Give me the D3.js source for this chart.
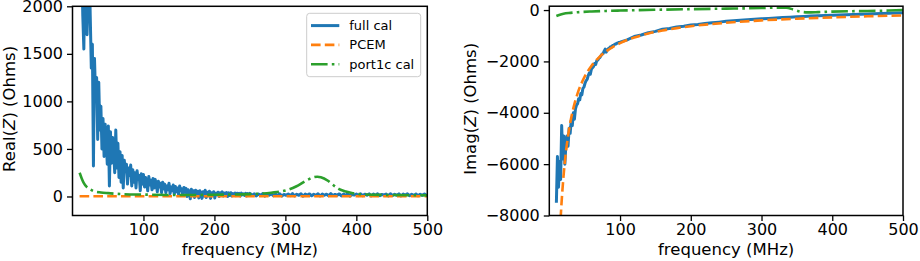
<!DOCTYPE html>
<html>
<head>
<meta charset="utf-8">
<script src="https://cdn.jsdelivr.net/npm/d3@7"></script>
<style>
  body { margin: 0; background: #fff; }
  svg { font-family: "DejaVu Sans", sans-serif; }
</style>
</head>
<body>
<svg class="both" width="920" height="261"></svg>
<script>
// ---- data ----
const seriesNames = ["full cal", "PCEM", "port1c cal"];
const xTicks = [100, 200, 300, 400, 500];
const realTicks = [0, 500, 1000, 1500, 2000];
const imagTicks = [-8000, -6000, -4000, -2000, 0];

// full cal, Real(Z): 1.5 MHz steps from 10 to 250 MHz
const realFullLow = [
  2700, 2300, 2500, 1900, 1550, 2400, 2600, 1700, 2100, 2450,
  1900, 1350, 1600, 320, 1450, 1050, 1250, 600, 1200, 700,
  950, 500, 820, 420, 760, 600, 340, 740, 110, 680,
  350, 620, 480, 250, 700, 300, 560, 200, 470, 150,
  430, 90, 380, 260, 340, 130, 300, 220, 330, 110,
  280, 150, 250, 90, 270, 180, 220, 60, 240, 130,
  230, 100, 200, 150, 60, 210, 120, 170, 70, 190,
  90, 180, 130, 50, 160, 100, 140, 40, 150, 80,
  130, 40, 110, 70, 140, 30, 100, 60, 120, 25,
  105, 50, 90, 20, 110, 60, 80, 10, 95, 45,
  85, 0, 70, 40, -25, 75, 20, 60, -10, 65,
  10, 55, -15, 60, 30, -20, 50, 5, 65, -10,
  45, 15, 55, -20, 40, 10, 50, -15, 35, 20,
  45, 0, 40, 15, 48, 5, 35, 20, 42, 0,
  38, 12, 40, 5, 30, 20, 36, 8, 34, 15,
  32, 5, 35, 18, 28, 10, 33, 6, 30, 15,
  32
];
// full cal, Real(Z): 3 MHz steps from 253 to 499 MHz
const realFullHigh = [
  10, 28, 6, 26, 12, 30, 4, 24, 14, 27,
  8, 25, 10, 29, 5, 22, 13, 26, 9, 30,
  6, 24, 12, 28, 3, 25, 15, 27, 7, 23,
  11, 29, 5, 26, 13, 24, 8, 30, 10, 22,
  14, 27, 6, 25, 12, 28, 4, 23, 15, 26,
  9, 29, 7, 24, 13, 27, 5, 25, 11, 28,
  8, 22, 14, 26, 6, 29, 10, 24, 12, 27,
  5, 25, 13, 28, 9, 23, 11, 26, 7, 24,
  12, 27, 10
];

// full cal, Imag(Z): 1.5 MHz steps from 10 to 98.5 MHz
const imagFullLow = [
  -7500, -5700, -6900, -5900, -6600, -4500, -5800, -4900, -6000, -5200,
  -4900, -5300, -4600, -4800, -4300, -4500, -4000, -4250, -3850, -3700,
  -3650, -3450, -3500, -3250, -3300, -3050, -3000, -2850, -2750, -2700,
  -2550, -2450, -2500, -2300, -2250, -2200, -2080, -2120, -1980, -1950,
  -1880, -1850, -1780, -1720, -1700, -1600, -1520, -1640, -1560, -1500,
  -1480, -1430, -1450, -1380, -1370, -1330, -1320, -1290, -1280, -1260
];
// full cal, Imag(Z): 10 MHz steps from 100 to 500 MHz
const imagFullHigh = [
  -1250, -1160, -1030, -970, -880, -830, -750, -720, -660, -630,
  -585, -560, -520, -495, -470, -440, -420, -400, -375, -360,
  -340, -325, -305, -290, -280, -265, -250, -235, -225, -210,
  -200, -190, -180, -170, -160, -150, -140, -130, -122, -114,
  -105
];

// PCEM
const pcemRealFreq = [10, 100, 200, 300, 400, 500];
const pcemReal = [2, 2, 2, 2, 2, 2];
const pcemImagFreq = [12, 14, 16, 18, 20, 23, 26, 30, 35, 40, 45, 50, 60, 70, 80, 90,
  100, 120, 140, 160, 180, 200, 250, 300, 350, 400, 450, 500];
const pcemImag = [-10830, -9285, -8125, -7220, -6500, -5650, -5000, -4330, -3710, -3245,
  -2885, -2595, -2160, -1850, -1617, -1435, -1290, -1071, -915, -796, -704, -630,
  -495, -403, -336, -285, -244, -210];

// port1c cal
const portRealFreq = [10, 13, 16, 20, 25, 30, 40, 50, 70, 100, 150, 200, 250, 280, 300,
  315, 330, 340, 345, 350, 360, 367, 375, 385, 395, 410, 450, 500];
const portReal = [250, 190, 140, 100, 75, 55, 42, 35, 25, 20, 15, 18, 25, 40, 63,
  105, 170, 203, 208, 203, 165, 123, 80, 52, 35, 22, 15, 12];
const portImagFreq = [10, 15, 20, 30, 40, 60, 80, 100, 150, 200, 250, 300, 320, 335,
  345, 355, 365, 380, 400, 450, 480, 500];
const portImag = [-230, -180, -145, -110, -85, -55, -35, -20, 10, 35, 55, 80, 95, 90,
  20, -60, -90, -80, -60, -35, -20, 0];

(function bothIFFE() {
  const svg = d3.select("svg.both");
  const colors = ["#1f77b4", "#ff7f0e", "#2ca02c"];
  const dashes = [null, "9.6,4.2", "16.6,4.2,2.6,4.2"];
  const widths = [3, 2.6, 2.6];

  // sweep grids of the full cal measurement
  const realFreq = d3.range(10, 250.1, 1.5).concat(d3.range(253, 500, 3));
  const imagFreq = d3.range(10, 99, 1.5).concat(d3.range(100, 501, 10));

  const panels = [
    {
      id: "re", left: 72.5, right: 427.3, top: 6.3, bottom: 215.5,
      yDomain: [-200, 2000], yTicks: realTicks, label: "Real", labelX: 15,
      series: [
        [realFreq, realFullLow.concat(realFullHigh)],
        [pcemRealFreq, pcemReal],
        [portRealFreq, portReal]
      ],
      legend: true
    },
    {
      id: "im", left: 549.3, right: 903, top: 6.2, bottom: 215.5,
      yDomain: [-8000, 150], yTicks: imagTicks, label: "Imag", labelX: 476,
      series: [
        [imagFreq, imagFullLow.concat(imagFullHigh)],
        [pcemImagFreq, pcemImag],
        [portImagFreq, portImag]
      ],
      legend: false
    }
  ];

  panels.forEach(drawPanel);

  function drawPanel(p) {
    const x = d3.scaleLinear().domain([0, 500]).range([p.left, p.right]);
    const y = d3.scaleLinear().domain(p.yDomain).range([p.bottom, p.top]);

    svg.append("clipPath").attr("id", "clip-" + p.id)
      .append("rect")
      .attr("x", p.left).attr("y", p.top)
      .attr("width", p.right - p.left).attr("height", p.bottom - p.top);

    const line = d3.line()
      .x(d => x(d[0]))
      .y(d => y(d[1]));

    const plot = svg.append("g").attr("clip-path", "url(#clip-" + p.id + ")");

    p.series.forEach(function(s, i) {
      const pts = s[0].map((f, k) => [f, s[1][k]]).filter(d => d[1] !== undefined);
      plot.append("path")
        .datum(pts)
        .attr("fill", "none")
        .attr("stroke", colors[i])
        .attr("stroke-width", widths[i])
        .attr("stroke-linejoin", "round")
        .attr("stroke-dasharray", dashes[i])
        .attr("d", i === 0 ? line.curve(d3.curveLinear)(pts) : line.curve(d3.curveMonotoneX)(pts));
    });

    // axes
    const fmt = d3.format("d");
    const xAxis = svg.append("g")
      .attr("transform", "translate(0," + p.bottom + ")")
      .call(d3.axisBottom(x).tickValues(xTicks).tickFormat(fmt)
        .tickSize(5.5).tickPadding(3).tickSizeOuter(0));
    const yAxis = svg.append("g")
      .attr("transform", "translate(" + p.left + ",0)")
      .call(d3.axisLeft(y).tickValues(p.yTicks).tickFormat(fmt)
        .tickSize(5.5).tickPadding(4).tickSizeOuter(0));

    [xAxis, yAxis].forEach(function(a) {
      a.select(".domain").remove();
      a.selectAll(".tick line").attr("stroke", "#000").attr("stroke-width", 1.3);
      a.selectAll(".tick text")
        .attr("fill", "#000")
        .style("font-size", "16px")
        .style("font-family", "'DejaVu Sans', sans-serif");
    });

    // frame
    svg.append("rect")
      .attr("x", p.left).attr("y", p.top)
      .attr("width", p.right - p.left).attr("height", p.bottom - p.top)
      .attr("fill", "none")
      .attr("stroke", "#000")
      .attr("stroke-width", 1.5);

    svg.append("text")
      .attr("x", (p.left + p.right) / 2)
      .attr("y", 255)
      .attr("text-anchor", "middle")
      .style("font-size", "16.5px")
      .text("frequency (MHz)");

    const yl = svg.append("text")
      .attr("transform", "translate(" + p.labelX + "," + ((p.top + p.bottom) / 2 - 2) + ") rotate(-90)")
      .attr("text-anchor", "middle")
      .style("font-size", "16.5px");
    yl.append("tspan").text(p.label + "(");
    yl.append("tspan").style("font-style", "italic").text("Z");
    yl.append("tspan").text(") (Ohms)");

    if (p.legend) drawLegend();
  }

  function drawLegend() {
    const lg = svg.append("g");
    lg.append("rect")
      .attr("x", 306.7).attr("y", 13.3)
      .attr("width", 114).attr("height", 63.4)
      .attr("rx", 3)
      .attr("fill", "#fff").attr("fill-opacity", 0.8)
      .attr("stroke", "#cccccc").attr("stroke-width", 1);
    seriesNames.forEach(function(name, i) {
      const cy = 25.6 + i * 19.3;
      lg.append("line")
        .attr("x1", 311).attr("x2", 339.3)
        .attr("y1", cy).attr("y2", cy)
        .attr("stroke", colors[i])
        .attr("stroke-width", widths[i])
        .attr("stroke-dasharray", dashes[i]);
      lg.append("text")
        .attr("x", 349.3).attr("y", cy)
        .attr("dy", "0.35em")
        .style("font-size", "13px")
        .text(name);
    });
  }
})();
</script>
</body>
</html>
